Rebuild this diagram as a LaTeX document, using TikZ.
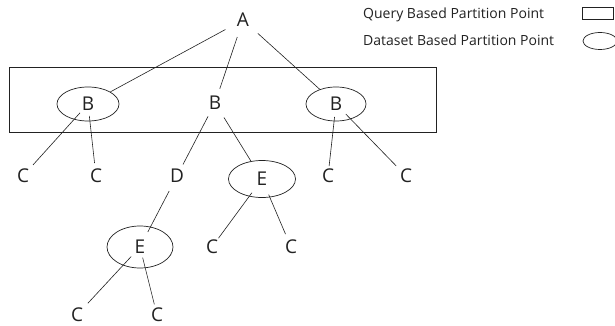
\documentclass[tikz,border=0pt]{standalone}
\usepackage{fontspec}
\setmainfont{Open Sans}
\usetikzlibrary{shapes.geometric}
\definecolor{ink}{HTML}{222222}
\tikzset{
  lbl/.style={inner sep=1pt, text=ink, font=\fontsize{19}{22}\selectfont},
  ell/.style={ellipse, draw=ink, line width=0.7pt, inner sep=0pt, text=ink, font=\fontsize{19}{22}\selectfont},
  edge/.style={draw=ink, line width=0.6pt},
  legtext/.style={anchor=west, inner sep=0pt, text=ink, font=\fontsize{14}{16}\selectfont},
}
\begin{document}
\begin{tikzpicture}[x=1pt,y=-1pt]
\useasboundingbox[fill=white] (0,0) rectangle (615,326);
% legend
\node[legtext] (q) at (363,15) {Query Based Partition Point};
\node[legtext] (d) at (363,40) {Dataset Based Partition Point};
\node[draw=ink, line width=0.7pt, minimum width=31pt, minimum height=12pt, inner sep=0pt] (qr) at (597.5,13.5) {};
\node[ellipse, draw=ink, line width=0.7pt, minimum width=34pt, minimum height=17pt, inner sep=0pt] (de) at (600,41) {};
% partition rectangle
\node[draw=ink, line width=1pt, minimum width=427pt, minimum height=64pt, inner sep=0pt] (box) at (222.5,100) {};
% nodes
\node[lbl] (A) at (243,20) {A};
\node[ell, minimum width=62pt, minimum height=34pt] (B1) at (88,104) {B};
\node[lbl] (B2) at (215,103) {B};
\node[ell, minimum width=60pt, minimum height=34pt] (B3) at (336,104) {B};
\node[lbl] (C1) at (23,176) {C};
\node[lbl] (C2) at (96,176) {C};
\node[lbl] (D) at (177,176) {D};
\node[ell, minimum width=67pt, minimum height=37pt] (E1) at (262,179) {E};
\node[lbl] (C3) at (328,176) {C};
\node[lbl] (C4) at (406,176) {C};
\node[ell, minimum width=66pt, minimum height=42pt] (E2) at (140,247) {E};
\node[lbl] (C5) at (212,247) {C};
\node[lbl] (C6) at (291,247) {C};
\node[lbl] (C7) at (77,315) {C};
\node[lbl] (C8) at (157,315) {C};
% edges
\draw[edge, shorten <=20pt] (A.center) -- (B1);
\draw[edge, shorten <=18pt, shorten >=15pt] (A.center) -- (B2.center);
\draw[edge, shorten <=20pt] (A.center) -- (B3);
\draw[edge, shorten <=12pt, shorten >=15pt] (B1.center) -- (C1.center);
\draw[edge, shorten <=12pt, shorten >=13pt] (B1.center) -- (C2.center);
\draw[edge, shorten <=15pt, shorten >=13pt] (B2.center) -- (D.center);
\draw[edge, shorten <=17pt] (B2.center) -- (E1);
\draw[edge, shorten <=13pt, shorten >=10pt] (B3.center) -- (C3.center);
\draw[edge, shorten <=14pt, shorten >=14pt] (B3.center) -- (C4.center);
\draw[edge, shorten <=17pt, shorten >=17pt] (D.center) -- (E2.center);
\draw[edge, shorten <=17pt, shorten >=11pt] (E1.center) -- (C5.center);
\draw[edge, shorten <=17pt, shorten >=14pt] (E1.center) -- (C6.center);
\draw[edge, shorten <=13pt, shorten >=16pt] (E2.center) -- (C7.center);
\draw[edge, shorten <=11pt, shorten >=11pt] (E2.center) -- (C8.center);
\end{tikzpicture}
\end{document}
